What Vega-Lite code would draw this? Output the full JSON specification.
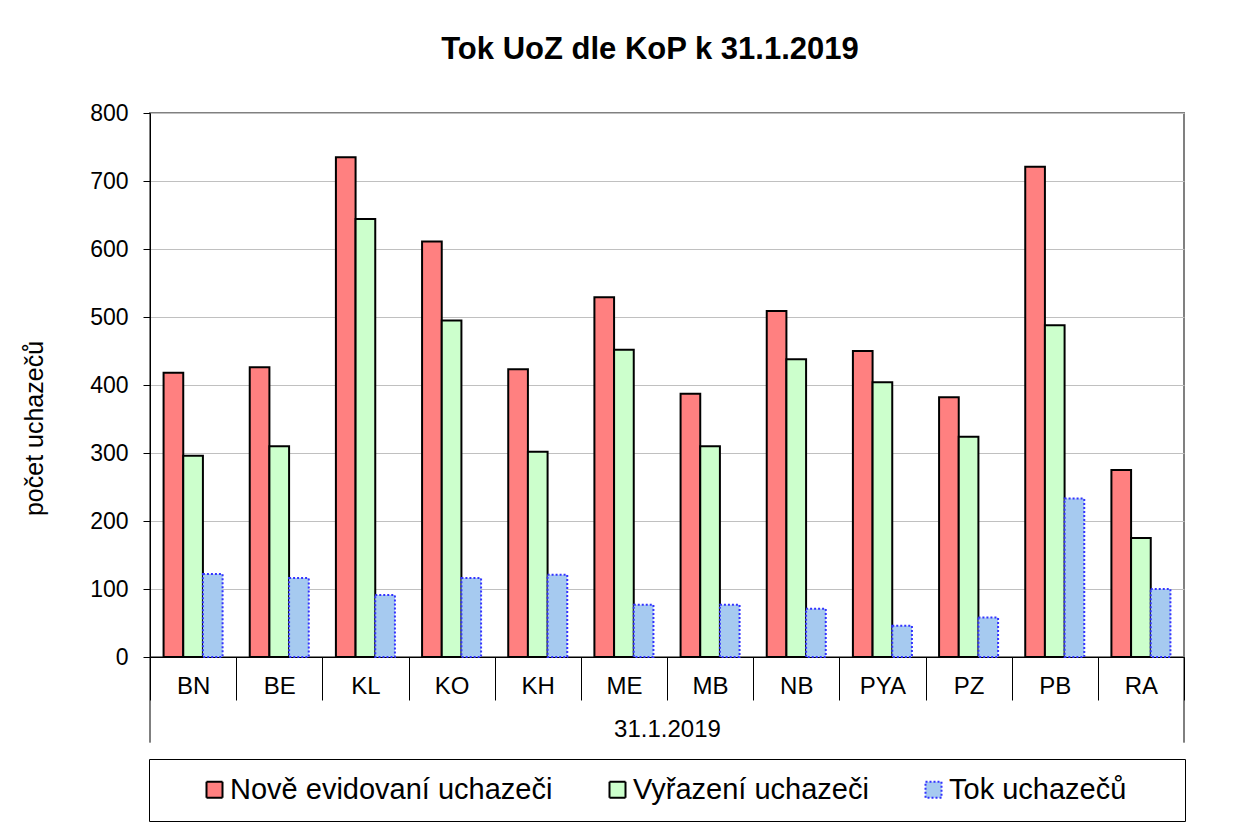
{
  "$schema": "https://vega.github.io/schema/vega-lite/v6.json",
  "width": 1034,
  "height": 544,
  "autosize": {"type": "none"},
  "padding": {"left": 150, "top": 113, "right": 68, "bottom": 169},
  "background": "white",
  "title": {
    "text": "Tok UoZ dle KoP k 31.1.2019",
    "fontSize": 31,
    "fontWeight": "bold",
    "font": "Liberation Sans",
    "color": "#000",
    "anchor": "middle",
    "frame": "group",
    "baseline": "alphabetic",
    "dx": -17,
    "offset": 12
  },
  "config": {
    "font": "Liberation Sans",
    "view": {"stroke": "#808080", "strokeWidth": 2},
    "legend": {
      "direction": "horizontal",
      "titleOrient": "left",
      "titleFontSize": 29,
      "titlePadding": 14,
      "symbolType": "square",
      "symbolSize": 256,
      "symbolStrokeWidth": 2,
      "labelFontSize": 29,
      "labelColor": "#000",
      "labelLimit": 600,
      "labelOffset": 1,
      "columnPadding": 8,
      "padding": 16,
      "strokeColor": "#000",
      "fillColor": "white"
    }
  },
  "data": {
    "values": [
      {"kp": "BN", "serie": "Nově evidovaní uchazeči", "pocet": 418},
      {"kp": "BN", "serie": "Vyřazení uchazeči", "pocet": 296},
      {"kp": "BN", "serie": "Tok uchazečů", "pocet": 122},
      {"kp": "BE", "serie": "Nově evidovaní uchazeči", "pocet": 426},
      {"kp": "BE", "serie": "Vyřazení uchazeči", "pocet": 310},
      {"kp": "BE", "serie": "Tok uchazečů", "pocet": 116},
      {"kp": "KL", "serie": "Nově evidovaní uchazeči", "pocet": 735},
      {"kp": "KL", "serie": "Vyřazení uchazeči", "pocet": 644},
      {"kp": "KL", "serie": "Tok uchazečů", "pocet": 91},
      {"kp": "KO", "serie": "Nově evidovaní uchazeči", "pocet": 611},
      {"kp": "KO", "serie": "Vyřazení uchazeči", "pocet": 495},
      {"kp": "KO", "serie": "Tok uchazečů", "pocet": 116},
      {"kp": "KH", "serie": "Nově evidovaní uchazeči", "pocet": 423},
      {"kp": "KH", "serie": "Vyřazení uchazeči", "pocet": 302},
      {"kp": "KH", "serie": "Tok uchazečů", "pocet": 121},
      {"kp": "ME", "serie": "Nově evidovaní uchazeči", "pocet": 529},
      {"kp": "ME", "serie": "Vyřazení uchazeči", "pocet": 452},
      {"kp": "ME", "serie": "Tok uchazečů", "pocet": 77},
      {"kp": "MB", "serie": "Nově evidovaní uchazeči", "pocet": 387},
      {"kp": "MB", "serie": "Vyřazení uchazeči", "pocet": 310},
      {"kp": "MB", "serie": "Tok uchazečů", "pocet": 77},
      {"kp": "NB", "serie": "Nově evidovaní uchazeči", "pocet": 509},
      {"kp": "NB", "serie": "Vyřazení uchazeči", "pocet": 438},
      {"kp": "NB", "serie": "Tok uchazečů", "pocet": 71},
      {"kp": "PYA", "serie": "Nově evidovaní uchazeči", "pocet": 450},
      {"kp": "PYA", "serie": "Vyřazení uchazeči", "pocet": 404},
      {"kp": "PYA", "serie": "Tok uchazečů", "pocet": 46},
      {"kp": "PZ", "serie": "Nově evidovaní uchazeči", "pocet": 382},
      {"kp": "PZ", "serie": "Vyřazení uchazeči", "pocet": 324},
      {"kp": "PZ", "serie": "Tok uchazečů", "pocet": 58},
      {"kp": "PB", "serie": "Nově evidovaní uchazeči", "pocet": 721},
      {"kp": "PB", "serie": "Vyřazení uchazeči", "pocet": 488},
      {"kp": "PB", "serie": "Tok uchazečů", "pocet": 233},
      {"kp": "RA", "serie": "Nově evidovaní uchazeči", "pocet": 275},
      {"kp": "RA", "serie": "Vyřazení uchazeči", "pocet": 175},
      {"kp": "RA", "serie": "Tok uchazečů", "pocet": 100}
    ]
  },
  "layer": [
    {
      "mark": {"type": "bar", "strokeWidth": 2},
      "encoding": {
        "x": {
          "field": "kp",
          "type": "nominal",
          "sort": ["BN", "BE", "KL", "KO", "KH", "ME", "MB", "NB", "PYA", "PZ", "PB", "RA"],
          "scale": {"paddingInner": 0, "paddingOuter": 0},
          "axis": {
            "title": "31.1.2019",
            "tickBand": "extent",
            "tickSize": 43,
            "tickColor": "#000",
            "tickWidth": 1,
            "domainColor": "#000",
            "domainWidth": 1,
            "labelFontSize": 24,
            "labelColor": "#000",
            "labelAngle": 0,
            "labelBaseline": "alphabetic",
            "labelPadding": -7,
            "titleFontSize": 24,
            "titleFontWeight": "normal",
            "titleColor": "#000",
            "titleX": 517,
            "titleY": 79,
            "titleBaseline": "alphabetic",
            "titleAlign": "center"
          }
        },
        "xOffset": {
          "field": "serie",
          "type": "nominal",
          "sort": ["Nově evidovaní uchazeči", "Vyřazení uchazeči", "Tok uchazečů"],
          "scale": {"paddingInner": 0, "paddingOuter": 0.69}
        },
        "y": {
          "field": "pocet",
          "type": "quantitative",
          "scale": {"domain": [0, 800], "nice": false},
          "axis": {
            "title": "počet uchazečů",
            "values": [0, 100, 200, 300, 400, 500, 600, 700, 800],
            "tickSize": 7,
            "tickColor": "#000",
            "domainColor": "#000",
            "labelPadding": 15,
            "labelFontSize": 23,
            "labelColor": "#000",
            "grid": true,
            "gridColor": "#c0c0c0",
            "gridWidth": 1,
            "titleFontSize": 25,
            "titleFontWeight": "normal",
            "titleColor": "#000",
            "titleX": -108,
            "titleY": 315,
            "titleAngle": 270,
            "titleBaseline": "alphabetic",
            "titleAlign": "center"
          }
        },
        "fill": {
          "field": "serie",
          "type": "nominal",
          "sort": ["Nově evidovaní uchazeči", "Vyřazení uchazeči", "Tok uchazečů"],
          "scale": {
            "domain": ["Nově evidovaní uchazeči", "Vyřazení uchazeči", "Tok uchazečů"],
            "range": ["#FF8080", "#CCFFCC", "#A6CAF0"]
          },
          "legend": {"orient": "none", "legendX": -1, "legendY": 646, "title": "\u2800", "labelExpr": "datum.label + '\u2800\u2800'"}
        },
        "stroke": {
          "field": "serie",
          "type": "nominal",
          "sort": ["Nově evidovaní uchazeči", "Vyřazení uchazeči", "Tok uchazečů"],
          "scale": {
            "domain": ["Nově evidovaní uchazeči", "Vyřazení uchazeči", "Tok uchazečů"],
            "range": ["#000000", "#000000", "#3333FF"]
          },
          "legend": {"orient": "none", "legendX": -1, "legendY": 646, "title": "\u2800", "labelExpr": "datum.label + '\u2800\u2800'"}
        },
        "strokeDash": {
          "field": "serie",
          "type": "nominal",
          "sort": ["Nově evidovaní uchazeči", "Vyřazení uchazeči", "Tok uchazečů"],
          "scale": {
            "domain": ["Nově evidovaní uchazeči", "Vyřazení uchazeči", "Tok uchazečů"],
            "range": [[1, 0], [1, 0], [2, 2]]
          },
          "legend": {"orient": "none", "legendX": -1, "legendY": 646, "title": "\u2800", "labelExpr": "datum.label + '\u2800\u2800'"}
        }
      }
    },
    {
      "data": {"values": [{}]},
      "mark": {"type": "rule", "color": "#000", "strokeWidth": 1},
      "encoding": {
        "x": {"datum": "BN", "type": "nominal", "bandPosition": 0},
        "y": {"datum": 0, "type": "quantitative"},
        "y2": {"datum": -126}
      }
    },
    {
      "data": {"values": [{}]},
      "mark": {"type": "rule", "color": "#000", "strokeWidth": 1},
      "encoding": {
        "x": {"datum": "RA", "type": "nominal", "bandPosition": 1},
        "y": {"datum": 0, "type": "quantitative"},
        "y2": {"datum": -126}
      }
    }
  ]
}
